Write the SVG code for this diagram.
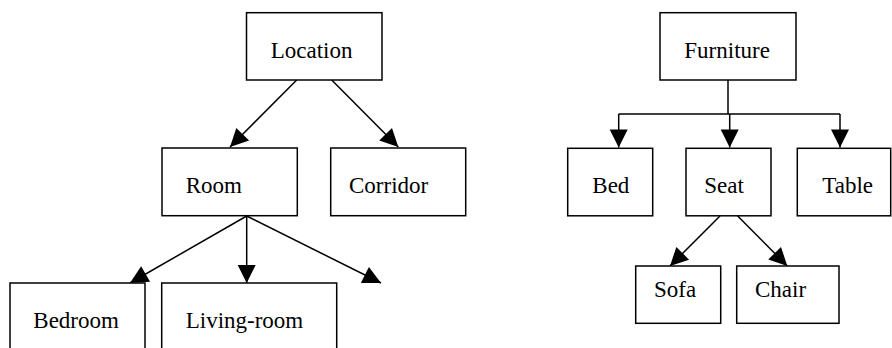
<svg xmlns="http://www.w3.org/2000/svg" width="892" height="348" viewBox="0 0 892 348">
<style>
rect.box{fill:#fff;stroke:#000;stroke-width:1.5}
.conn line{stroke:#000;stroke-width:1.5;fill:none}
</style>
<defs>
<marker id="ah" markerUnits="userSpaceOnUse" markerWidth="18" markerHeight="18" refX="18" refY="9" orient="auto" overflow="visible">
<path d="M0,0 L18,9 L0,18 z" fill="#000"/>
</marker>
</defs>
<rect width="892" height="348" fill="#fff"/>
<g class="conn" id="connectors">
<line x1="296.7" y1="80" x2="230" y2="147" marker-end="url(#ah)"/>
<line x1="331.7" y1="80" x2="398.3" y2="147" marker-end="url(#ah)"/>
<line x1="246.7" y1="216" x2="130" y2="283" marker-end="url(#ah)"/>
<line x1="246.7" y1="216" x2="246.7" y2="283" marker-end="url(#ah)"/>
<line x1="246.7" y1="216" x2="381" y2="283" marker-end="url(#ah)"/>
<line x1="728" y1="80" x2="728" y2="114"/>
<line x1="618.7" y1="114" x2="840" y2="114"/>
<line x1="618.7" y1="114" x2="618.7" y2="147.5" marker-end="url(#ah)"/>
<line x1="729.7" y1="114" x2="729.7" y2="147.5" marker-end="url(#ah)"/>
<line x1="840" y1="114" x2="840" y2="147.5" marker-end="url(#ah)"/>
<line x1="720" y1="216" x2="670" y2="266" marker-end="url(#ah)"/>
<line x1="737.7" y1="216" x2="787.3" y2="266" marker-end="url(#ah)"/>
</g>
<g id="nodes" font-family="Liberation Serif" font-size="23" fill="#000">
<g id="location"><rect class="box" x="246.5" y="12.7" width="135.5" height="67.3"/><text x="270.7" y="58.3">Location</text></g>
<g id="room"><rect class="box" x="162" y="148" width="135.3" height="67.7"/><text x="185.7" y="193.3">Room</text></g>
<g id="corridor"><rect class="box" x="330.7" y="148" width="135" height="67.7"/><text x="349" y="193.3">Corridor</text></g>
<g id="bedroom"><rect class="box" x="10" y="283" width="135" height="70"/><text x="33.3" y="328.3">Bedroom</text></g>
<g id="living-room"><rect class="box" x="161.7" y="283" width="175" height="70"/><text x="185.7" y="328.3">Living-room</text></g>
<g id="furniture"><rect class="box" x="660" y="12.7" width="136" height="67.3"/><text x="684.3" y="58.3">Furniture</text></g>
<g id="bed"><rect class="box" x="567.7" y="148.3" width="85" height="67.5"/><text x="592.3" y="192.7">Bed</text></g>
<g id="seat"><rect class="box" x="686" y="148.3" width="85" height="67.5"/><text x="704.3" y="192.7">Seat</text></g>
<g id="table"><rect class="box" x="797.3" y="148.3" width="93.4" height="67.5"/><text x="822.3" y="192.7">Table</text></g>
<g id="sofa"><rect class="box" x="635.7" y="266" width="85" height="57.3"/><text x="654" y="296.7">Sofa</text></g>
<g id="chair"><rect class="box" x="736.7" y="266" width="102.3" height="57.3"/><text x="755" y="296.7">Chair</text></g>
</g>
</svg>
